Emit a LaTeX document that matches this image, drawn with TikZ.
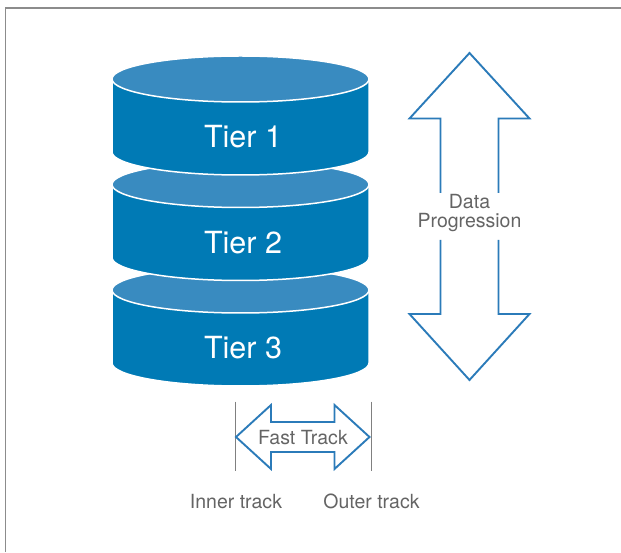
\documentclass[tikz,border=0pt]{standalone}
\usepackage{fontspec}
\setmainfont{TeX Gyre Heros}

\definecolor{tierside}{RGB}{0,122,181}
\definecolor{tiertop}{RGB}{57,139,192}
\definecolor{arrowblue}{RGB}{43,123,185}
\definecolor{labelgray}{RGB}{100,100,100}

\begin{document}
\begin{tikzpicture}[x=1pt, y=1pt,
  tierlabel/.style={text=white, font=\fontsize{30.5}{34}\selectfont},
  graylabel/.style={text=labelgray, font=\fontsize{19.5}{19.5}\selectfont, align=center},
  blockarrow/.style={draw=arrowblue, line width=1.9pt, line join=miter},
  trackline/.style={draw=gray, line width=0.8pt}]

\useasboundingbox (0,0) rectangle (621,552);

% frame (top and left only)
\draw[gray!90, line width=1.2pt] (5.5,0) -- (5.5,544) -- (621,544);

% tiers, lowest first so each one sits over the next
\foreach \i in {3,2,1}{

  \pgfmathsetmacro{\yc}{473-105.5*(\i-1)} % centre of top ellipse
  \pgfmathsetmacro{\yb}{\yc-73}           % lower end of side wall

  % side wall
  \path[fill=tierside, draw=white, line width=1.5pt]
    (112,\yc) -- (112,\yb)
    arc[start angle=180, end angle=360, x radius=128.5, y radius=23]
    -- (369,\yc) -- cycle;

  % lid
  \path[fill=tiertop, draw=white, line width=1.5pt]
    (240.5,\yc) ellipse[x radius=128.5, y radius=23];

  \node[tierlabel] (tier\i) at (243,\yc-58) {Tier \i};
}

% data progression arrow, split round its label
\node[graylabel] (progress) at (469.5,339) {Data\\Progression};
\draw[blockarrow] (440.5,359) -- (440.5,433.5) -- (409.5,433.5) -- (469.5,499)
  -- (529.5,433.5) -- (498.5,433.5) -- (498.5,359);
\draw[blockarrow] (440.5,312) -- (440.5,238) -- (409.5,238) -- (469.5,172)
  -- (529.5,238) -- (498.5,238) -- (498.5,312);

% track limits
\coordinate (innerend) at (236,115);
\coordinate (outerend) at (369.5,115);
\draw[trackline] (235.5,150.5) -- (235.5,81);
\draw[trackline] (371.5,150.5) -- (371.5,81);

% fast track arrow
\draw[blockarrow] (innerend) -- ++(35,32) -- ++(0,-17) -- (334.5,130) -- ++(0,17)
  -- (outerend) -- ++(-35,-32) -- ++(0,17) -- (271,100) -- ++(0,-17) -- cycle;
\node[graylabel] (fast) at (303,114) {Fast Track};

% track names
\node[graylabel] (innerlbl) at (236,50.5) {Inner track};
\node[graylabel] (outerlbl) at (371.5,50.5) {Outer track};

\end{tikzpicture}
\end{document}
